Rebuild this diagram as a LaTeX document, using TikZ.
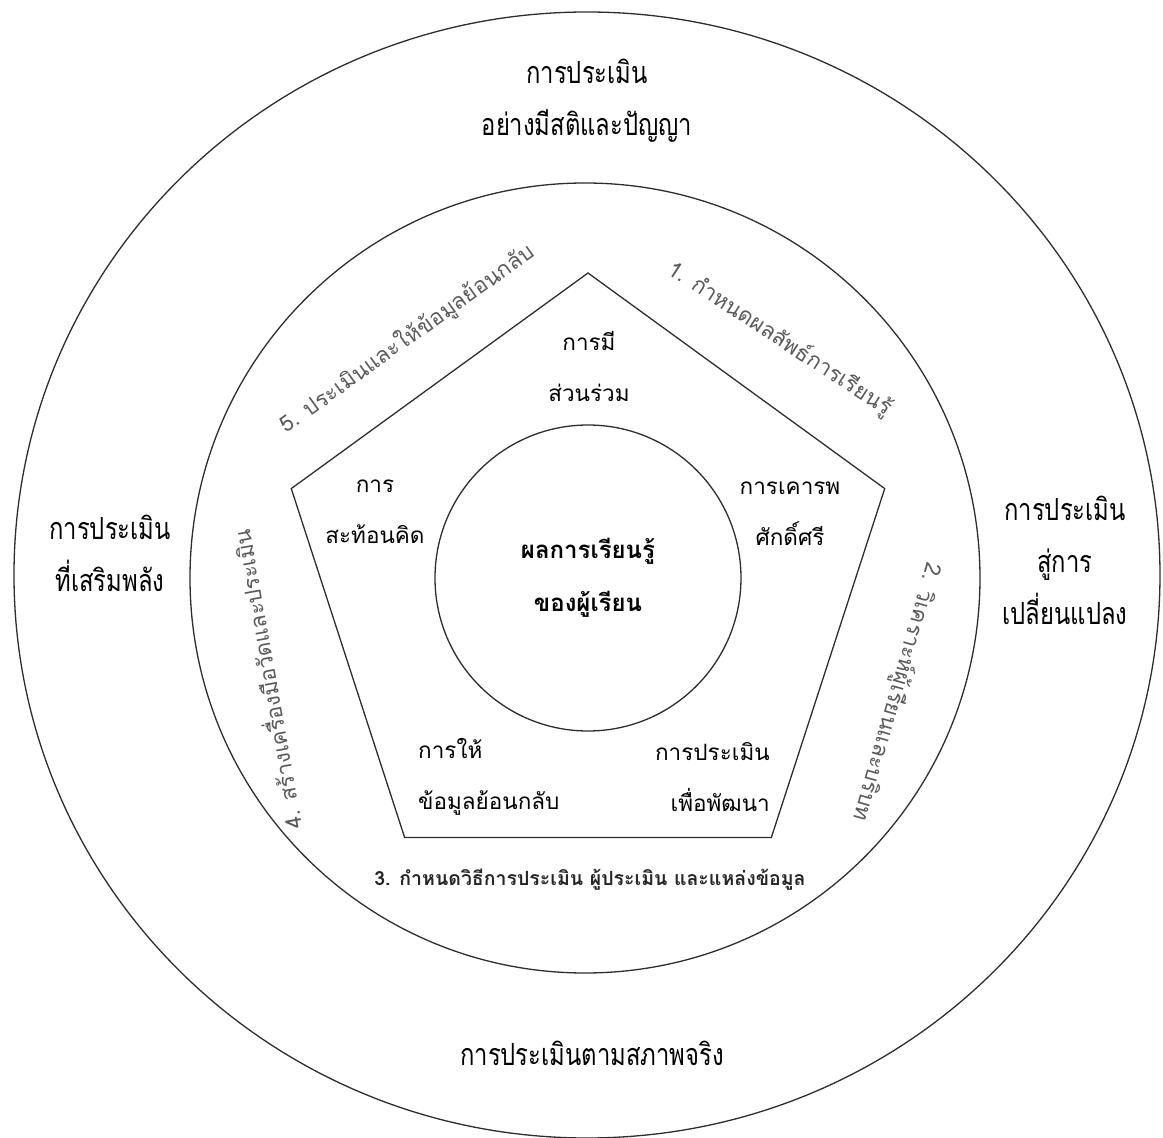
\documentclass[tikz,border=0pt]{standalone}
\usepackage{fontspec}
\newfontfamily\thaifont[Script=Thai]{Loma}
\newfontfamily\thainarrow[Script=Thai,FakeStretch=0.78]{Loma}
\definecolor{lineink}{RGB}{45,45,45}
\definecolor{stepink}{RGB}{90,90,90}
\usetikzlibrary{positioning}
\tikzset{
  ring/.style={draw=lineink,line width=1.3pt},
  outerlbl/.style={font=\thainarrow\fontsize{30.5}{52}\selectfont,
                   align=center,text=black,inner sep=0pt},
  innerlbl/.style={font=\thaifont\fontsize{22.5}{51}\selectfont,
                   align=#1,text=black,inner sep=0pt},
  innerlbl/.default=center,
  steplbl/.style={font=\thaifont\fontsize{22}{24}\selectfont,
                  text=stepink,inner sep=0pt},
}

\begin{document}
\begin{tikzpicture}[x=1pt,y=1pt]
  \useasboundingbox (-587,-563) rectangle (576,575);
  % rings
  \draw[ring] (0,0) ellipse [x radius=573, y radius=563];
  \draw[ring] (-2,-3) circle (395);
  \begin{scope}[shift={(1,-10)}]
    \draw[ring] (90:312) -- (18:312) -- (-54:312) -- (-126:312)
                -- (162:312) -- cycle;
  \end{scope}
  \node[ring,circle,minimum size=306pt,align=center,
        font=\thaifont\bfseries\fontsize{24}{53}\selectfont] (core) at (1,-3)
        {ผลการเรียนรู้\\ของผู้เรียน};

  % outer ring
  \node[outerlbl] (mindful) at (0,474) {การประเมิน\\อย่างมีสติและปัญญา};
  \node[outerlbl] (empower) at (-477,22) {การประเมิน\\ที่เสริมพลัง};
  \node[outerlbl] (change)  at (478,15) {การประเมิน\\สู่การ\\เปลี่ยนแปลง};
  \node[outerlbl] (authentic) at (5,-478) {การประเมินตามสภาพจริง};

  % steps round the pentagon
  \node[steplbl,rotate=-33]  (stepA) at (193,236) {1. กำหนดผลลัพธ์การเรียนรู้};
  \node[steplbl,rotate=-106] (stepB) at (310,-117) {2. วิเคราะห์ผู้เรียนและบริบท};
  \node[steplbl,font=\thaifont\bfseries\fontsize{19.5}{22}\selectfont,text=black!85]
        (stepC) at (3,-305) {3. กำหนดวิธีการประเมิน ผู้ประเมิน และแหล่งข้อมูล};
  \node[steplbl,rotate=100]  (stepD) at (-322,-105) {4. สร้างเครื่องมือวัดและประเมิน};
  \node[steplbl,rotate=35.6] (stepE) at (-180,236) {5. ประเมินและให้ข้อมูลย้อนกลับ};

  % pentagon corners
  \node[innerlbl] (share)   at (2,208) {การมี\\ส่วนร่วม};
  \node[innerlbl] (reflect) at (-212,63) {การ\\สะท้อนคิด};
  \node[innerlbl] (respect) at (203,61) {การเคารพ\\ศักดิ์ศรี};
  \node[innerlbl=left,anchor=west]   (feedback) at (-169,-202) {การให้\\ข้อมูลย้อนกลับ};
  \node[innerlbl=right,anchor=east]  (develop)  at (183,-202) {การประเมิน\\เพื่อพัฒนา};
\end{tikzpicture}
\end{document}
